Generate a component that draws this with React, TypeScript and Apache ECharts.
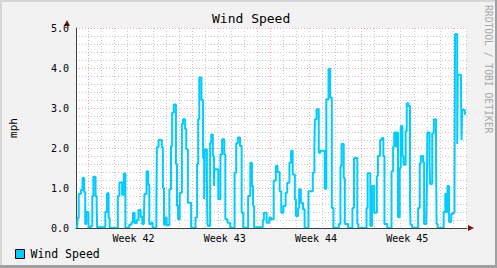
import React, { useEffect, useRef } from "react";
import * as echarts from "echarts";

// Time in hours from the start (Monday 00:00) of week 42; value in mph
const hours = [
  -22, -20, -19, -17, -13, -10, -7, -5, -3, 1, 5, 8, 10, 14, 16, 17, 18, 32, 35, 38,
  40, 55, 58, 63, 66, 69, 76, 80, 83, 86, 90, 93, 97, 100, 103, 104, 108, 111, 113, 117,
  119, 126, 127, 130, 136, 138, 140, 142, 145, 150, 153, 155, 158, 162, 164, 166, 169, 173, 175, 179,
  181, 184, 190, 198, 201, 203, 205, 209, 212, 214, 215, 219, 220, 221, 225, 227, 230, 232, 233, 240,
  244, 247, 251, 253, 257, 262, 270, 273, 276, 280, 283, 286, 295, 299, 302, 304, 306, 309, 322, 324,
  329, 334, 337, 342, 346, 349, 353, 356, 360, 364, 367, 371, 374, 377, 381, 383, 387, 389, 392, 396,
  399, 406, 414, 417, 418, 421, 425, 428, 436, 439, 443, 446, 449, 452, 462, 465, 467, 471, 473, 479,
  487, 490, 496, 498, 513, 515, 520, 523, 527, 532, 534, 538, 541, 544, 546, 551, 559, 562, 564, 567,
  569, 571, 574, 576, 579, 581, 585, 587, 590, 593, 594, 597, 608, 611, 613, 617, 619, 623, 624, 625,
  629, 630, 634, 637, 641, 642, 644, 655, 658, 660, 662, 665, 669, 672, 675, 676, 680, 681, 687, 688,
  689, 694,
];
const mph = [
  0.05, 0, 0.25, 0.85, 0.95, 1.25, 0.9, 0.1, 0.4, 0, 0.05, 0.8, 1.28, 0.8, 0.6, 0, 0.02, 0.4, 0.87, 0.25,
  0, 0.8, 1.14, 0.83, 1.36, 0, 0.08, 0.14, 0.38, 0.12, 0.2, 0.45, 0.28, 0.1, 0.2, 0.85, 1.42, 1.08, 0.1, 0.14,
  0, 0.6, 2.02, 2.2, 2.02, 1.0, 0.08, 0.26, 0.07, 0.97, 2.05, 2.88, 3.09, 1.6, 0.55, 0.22, 0.88, 2.6, 2.72, 2.47,
  1.97, 0.63, 0, 0.26, 1.6, 2.72, 3.76, 3.2, 1.75, 0.72, 1.97, 1.22, 0.13, 0.05, 2.13, 2.34, 1.8, 1.05, 1.47, 0.72,
  1.84, 2.22, 1.84, 0.22, 0.13, 0, 1.38, 2.12, 2.26, 2.05, 0.38, 0, 0.8, 1.63, 1.05, 0.55, 0, 0.02, 0.2, 0.38,
  0.13, 0.26, 0.22, 1.18, 1.55, 1.4, 0.92, 0.38, 0.55, 0.88, 1.13, 1.63, 1.93, 1.34, 0.72, 0.3, 0.5, 0.97, 0.63, 0.47,
  0, 0.92, 1.38, 2.04, 2.72, 2.97, 1.88, 1.93, 0.98, 3.22, 3.98, 3.26, 0.5, 0, 0.1, 1.55, 2.1, 1.25, 0.1, 0,
  0.5, 1.75, 0.1, 0, 0.5, 1.37, 0.05, 1.05, 0.38, 1.3, 1.8, 2.2, 2.25, 1.8, 0.1, 0, 1.42, 2.04, 2.39, 2.04,
  2.39, 0.27, 1.5, 2.55, 1.8, 1.58, 2.42, 3.12, 3.05, 0.58, 0.08, 0, 0.5, 1.62, 1.8, 1.65, 0.1, 0.3, 1.0, 2.39,
  1.58, 1.1, 2.37, 2.72, 1.7, 0.1, 0, 0.4, 0.85, 0.4, 1.05, 0.15, 0.35, 0.38, 1.2, 4.85, 2.1, 3.83, 3.47, 2.2,
  2.95, 2.85,
];
const endHour = 696;
const axisMinHour = -22;
const axisMaxHour = 698;

const weekNumbers = [42, 43, 44, 45];
const weekStartHours = [0, 168, 336, 504, 672];
const yTicks = [0, 1, 2, 3, 4, 5];

const seriesName = "Wind Speed";
const titleText = "Wind Speed";
const unitText = "mph";
const creditText = "RRDTOOL / TOBI OETIKER";

const MONO = "'DejaVu Sans Mono', 'Liberation Mono', monospace";
const MAJOR = "rgba(240,110,110,0.6)";
const MINOR = "#c8c8c8";

export default function App() {
  const ref = useRef<HTMLDivElement>(null);

  useEffect(() => {
    if (!ref.current) return;
    const chart = echarts.init(ref.current, undefined, { renderer: "svg" });

    const data = hours.map((h, i) => [h, mph[i]]);
    data.push([endHour, mph[mph.length - 1]]);

    const weekMid = weekStartHours.slice(0, weekNumbers.length).map((h) => h + 84);
    const dayLines: number[] = [];
    for (let h = 24; h <= axisMaxHour; h += 24) {
      if (h % 168 !== 0) dayLines.push(h);
    }

    const option: any = {
      animation: false,
      backgroundColor: "#f2f2f2",
      textStyle: { fontFamily: MONO },
      title: {
        text: titleText,
        left: 212,
        top: 12,
        padding: 0,
        textStyle: { fontFamily: MONO, fontSize: 13, fontWeight: "normal", color: "#000" },
      },
      grid: {
        left: 67,
        top: 28,
        width: 400,
        height: 200,
        show: true,
        backgroundColor: "#ffffff",
        borderWidth: 0,
        containLabel: false,
      },
      legend: {
        left: 15,
        top: 248,
        padding: 0,
        icon: "rect",
        itemWidth: 9,
        itemHeight: 9,
        itemStyle: { borderColor: "#000", borderWidth: 1 },
        textStyle: { fontFamily: MONO, fontSize: 11.5, color: "#000", padding: [0, 0, 0, 1] },
        data: [seriesName],
      },
      xAxis: [
        {
          type: "value",
          min: axisMinHour,
          max: axisMaxHour,
          axisLine: { show: true, onZero: false, lineStyle: { color: "#404040", width: 1 } },
          axisTick: { show: false, customValues: weekStartHours },
          axisLabel: {
            customValues: weekMid,
            formatter: (v: number) => "Week " + weekNumbers[Math.round((v - 84) / 168)],
            fontFamily: MONO,
            fontSize: 10,
            color: "#000",
            margin: 5,
          },
          splitLine: {
            show: true,
            lineStyle: { color: MAJOR, type: [1, 2], width: 1 },
          },
          z: 3,
        },
        {
          type: "value",
          min: axisMinHour,
          max: axisMaxHour,
          position: "bottom",
          axisLine: { show: false, onZero: false },
          axisTick: { show: false, customValues: dayLines },
          axisLabel: { show: false },
          splitLine: {
            show: true,
            lineStyle: { color: MINOR, type: [1, 2], width: 1 },
          },
          z: 1,
        },
      ],
      yAxis: {
        type: "value",
        min: yTicks[0],
        max: yTicks[yTicks.length - 1],
        interval: 1,
        name: unitText,
        nameLocation: "middle",
        nameGap: 57,
        nameRotate: 90,
        nameTextStyle: { fontFamily: MONO, fontSize: 11, color: "#000" },
        axisLine: { show: true, onZero: false, lineStyle: { color: "#404040", width: 1 } },
        axisTick: { show: false },
        axisLabel: {
          formatter: (v: number) => v.toFixed(1),
          fontFamily: MONO,
          fontSize: 10,
          color: "#000",
          margin: 7,
        },
        splitLine: {
          show: true,
          lineStyle: { color: MAJOR, type: [1, 2], width: 1 },
        },
        minorTick: { show: false, splitNumber: 5 },
        minorSplitLine: {
          show: true,
          lineStyle: { color: MINOR, type: [1, 2], width: 1 },
        },
      },
      series: [
        {
          name: seriesName,
          type: "line",
          xAxisIndex: 0,
          step: "end",
          showSymbol: false,
          symbol: "none",
          color: "#00CCFF",
          lineStyle: { color: "#00CCFF", width: 2 },
          itemStyle: { color: "#00CCFF" },
          data,
          z: 2,
        },
      ],
      graphic: [
        { type: "rect", shape: { x: 0, y: 0, width: 497, height: 2 }, style: { fill: "#d6d6d6" }, silent: true },
        { type: "rect", shape: { x: 0, y: 0, width: 2, height: 268 }, style: { fill: "#d6d6d6" }, silent: true },
        { type: "rect", shape: { x: 495, y: 0, width: 2, height: 268 }, style: { fill: "#a0a0a0" }, silent: true },
        { type: "rect", shape: { x: 0, y: 265, width: 497, height: 3 }, style: { fill: "#a0a0a0" }, silent: true },
        {
          type: "polygon",
          shape: { points: [[64, 26], [70, 26], [67, 20]] },
          style: { fill: "#7a1515" },
          silent: true,
        },
        {
          type: "polygon",
          shape: { points: [[468, 225], [468, 231], [474, 228]] },
          style: { fill: "#7a1515" },
          silent: true,
        },
        {
          type: "text",
          x: 488,
          y: 5,
          rotation: -Math.PI / 2,
          style: {
            text: creditText,
            fill: "#a8a8a8",
            fontSize: 9.7,
            fontFamily: MONO,
            align: "left",
            verticalAlign: "middle",
          },
          silent: true,
        },
      ],
    };

    chart.setOption(option);
    return () => chart.dispose();
  }, []);

  return (
    <div
      ref={ref}
      style={{ position: "fixed", left: 0, top: 0, width: 497, height: 268 }}
    />
  );
}
